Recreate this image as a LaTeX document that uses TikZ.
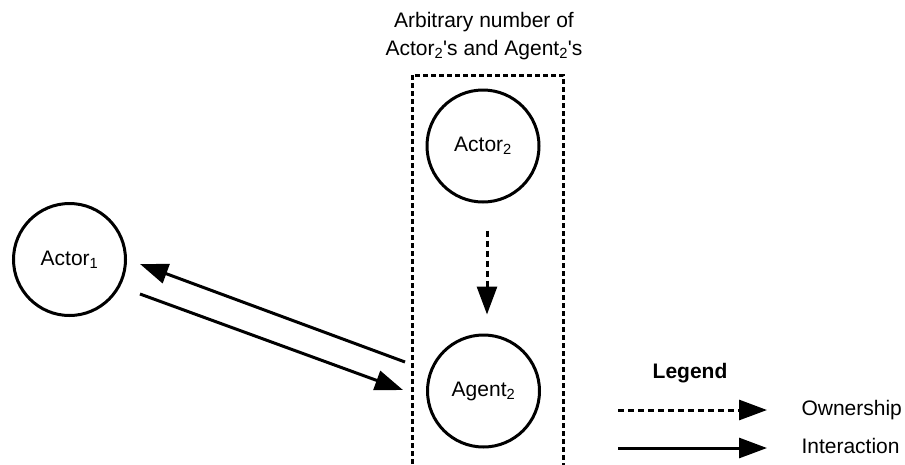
\documentclass[tikz,border=0pt]{standalone}
\usepackage{fontspec}
\setmainfont{Liberation Sans}
\usetikzlibrary{arrows.meta}
\begin{document}
\begin{tikzpicture}[x=1pt,y=-1pt,line width=3pt,
					own/.style={-{Triangle[length=28pt,width=20pt]},dash pattern=on 6pt off 4pt},
					interact/.style={-{Triangle[length=28pt,width=20pt]}}]
					\tikzstyle{every node}=[font=\fontsize{21pt}{28pt}\selectfont]
					\tikzstyle{agent}=[draw, circle, minimum size=112pt, inner sep=0pt]
					\tikzstyle{boxline}=[dash pattern=on 5pt off 3pt]
					\useasboundingbox (0,0) rectangle (905,464);
					
					\draw[boxline] (412,480) -- (412,75) -- (563,75) -- (563,480);
					\node[align=center] (title) at (484,36) {Arbitrary number of\\Actor\textsubscript{2}\textquotesingle s and Agent\textsubscript{2}\textquotesingle s};
					
					\node[agent] (actor1) at (69.5,259.5) {Actor\textsubscript{1}};
					\node[agent] (actor2) at (483,146) {Actor\textsubscript{2}};
					\node[agent] (agent2) at (483.5,391) {Agent\textsubscript{2}};
					
					\coordinate (a1in) at ([shift={(70.5pt,-4.5pt)}]actor1.center);
					\coordinate (a1out) at ([shift={(70.5pt,-34.5pt)}]actor1.center);
					\coordinate (ag2in) at ([shift={(-80.5pt,1pt)}]agent2.center);
					\coordinate (ag2out) at ([shift={(-78.5pt,29pt)}]agent2.center);
					\draw[interact] (ag2out) -- (a1in);
					\draw[interact] (a1out) -- (ag2in);
					\draw[own] ([xshift=4pt,yshift=-27pt]actor2.south) -- ([xshift=3.5pt,yshift=19pt]agent2.north);
					
					\node[anchor=base, font=\fontsize{21pt}{28pt}\selectfont\bfseries] (legend) at (690,378) {Legend};
					\coordinate (own0) at (618,410);
					\coordinate (own1) at (767,410);
					\coordinate (int0) at (618,448);
					\coordinate (int1) at (767,448);
					\draw[own] (own0) -- (own1);
					\draw[interact] (int0) -- (int1);
					\node[anchor=base west, inner sep=0pt] (ownlbl) at (800,415) {Ownership};
					\node[anchor=base west, inner sep=0pt] (intlbl) at (800,453) {Interaction};
				\end{tikzpicture}
\end{document}
